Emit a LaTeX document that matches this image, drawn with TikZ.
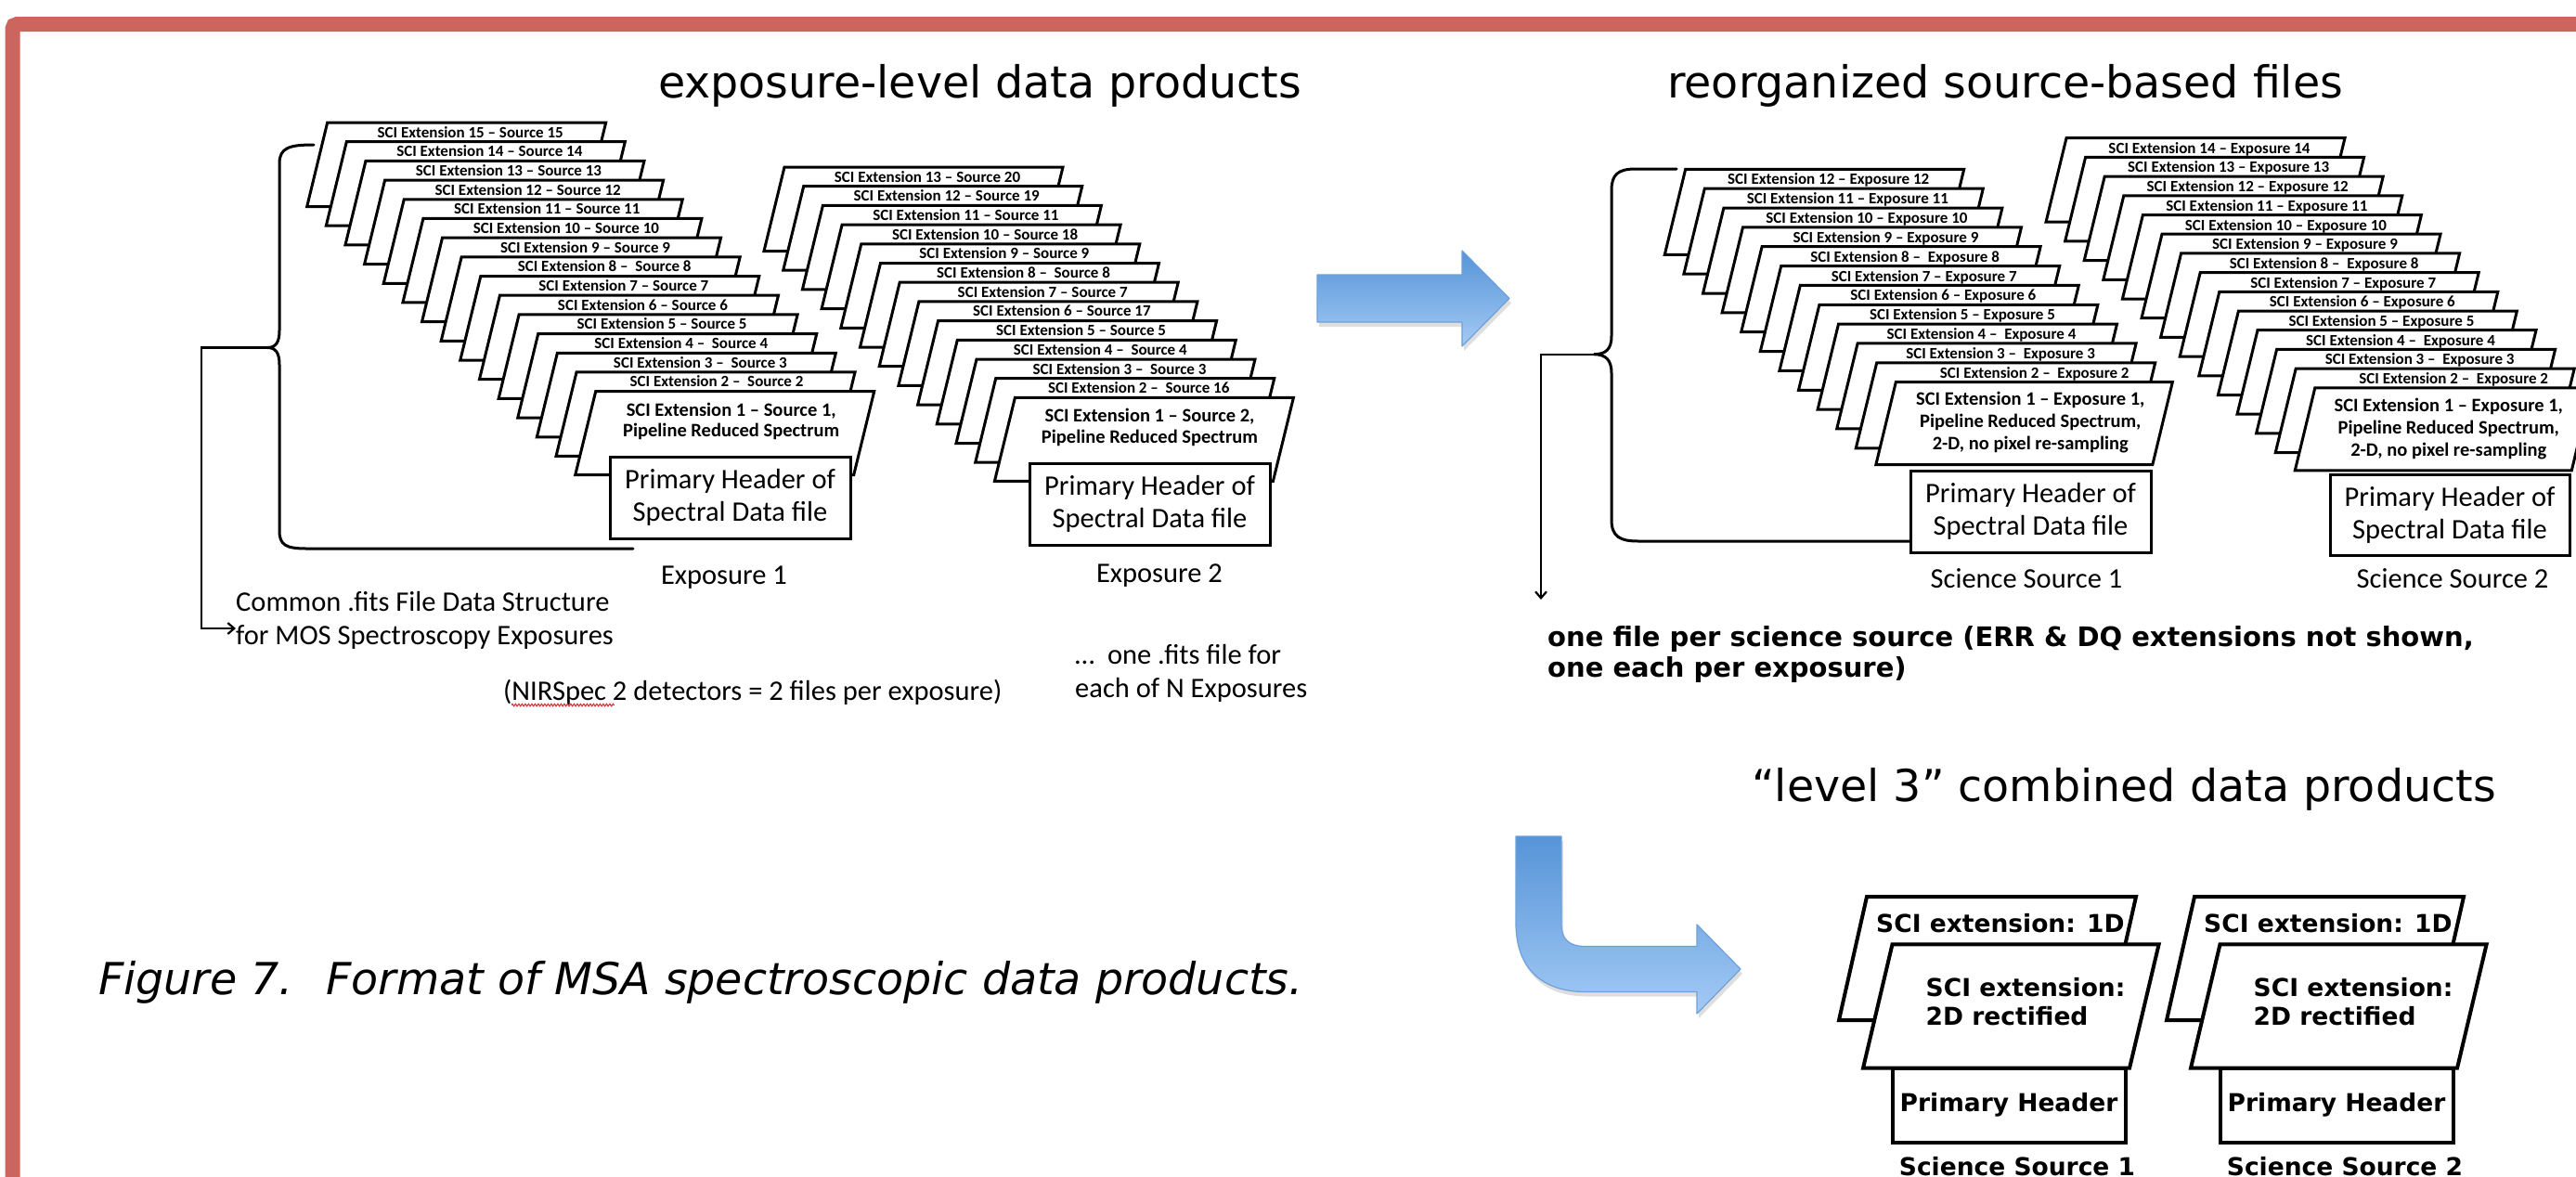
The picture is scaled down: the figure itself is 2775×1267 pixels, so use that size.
\documentclass[tikz,border=0pt]{standalone}
\usepackage{fontspec}
\setmainfont{Carlito}
\newfontfamily\dvsans{DejaVu Sans}
\usetikzlibrary{arrows.meta,decorations.pathmorphing}
\definecolor{framered}{RGB}{205,101,95}
\definecolor{arrtop}{RGB}{86,148,216}
\definecolor{arrbot}{RGB}{163,202,245}
\definecolor{arredge}{RGB}{110,160,218}
\definecolor{squig}{RGB}{220,40,40}
\tikzset{
  sheet/.style={draw=black, fill=white, line width=3pt, line join=miter},
  lsheet/.style={draw=black, fill=white, line width=4pt, line join=miter},
  lbl/.style={font=\bfseries\fontsize{17}{20}\selectfont, anchor=base, inner sep=0pt},
  bigl/.style={font=\bfseries\fontsize{20.5}{24}\selectfont, anchor=base, inner sep=0pt},
  hdr/.style={draw=black, fill=white, line width=3pt, minimum width=259pt, minimum height=88pt, inner sep=0pt, align=center, font=\fontsize{30.5}{35}\selectfont},
  lhdr/.style={draw=black, fill=white, line width=4pt, minimum width=251pt, minimum height=80pt, inner sep=0pt, font=\dvsans\bfseries\fontsize{26.5}{31}\selectfont},
  captxt/.style={font=\fontsize{30.5}{36.5}\selectfont, inner sep=0pt},
  ttl/.style={font=\dvsans\fontsize{47.5}{57}\selectfont, anchor=base west, inner sep=0pt},
  boldv/.style={font=\dvsans\bfseries\fontsize{29}{33}\selectfont, anchor=base west, inner sep=0pt},
  lthree/.style={font=\dvsans\bfseries\fontsize{26.5}{31}\selectfont, inner sep=0pt},
  brace/.style={draw=black, line width=3pt, line cap=round},
  conn/.style={draw=black, line width=2.2pt},
  bluearrow/.style={top color=arrtop, bottom color=arrbot, draw=arredge, line width=1.2pt, line join=round},
  arrshadow/.style={fill=black, opacity=0.13}
}
\begin{document}
\begin{tikzpicture}[x=1pt,y=-1pt]
\useasboundingbox (0,0) rectangle (2775,1267);
\clip (0,0) rectangle (2775,1267);
\fill[white] (0,0) rectangle (2775,1267);

% frame
\draw[framered, line width=16pt, rounded corners=5pt] (13.5,1300) -- (13.5,26) -- (2820,26);

% titles
\node[ttl] (t1) at (709,105) {exposure-level data products};
\node[ttl] (t2) at (1796,105) {reorganized source-based files};
\node[ttl] (t3) at (1887,863) {“level 3” combined data products};
\node[font=\dvsans\itshape\fontsize{47.5}{56}\selectfont, anchor=base west, inner sep=0pt] (fig) at (106,1071) {Figure 7. ~Format of MSA spectroscopic data products.};

% ---------- stack 1 : exposure 1
\foreach \lab/\off [count=\i from 0] in {{SCI Extension 15 – Source 15}/0,{SCI Extension 14 – Source 14}/0,{SCI Extension 13 – Source 13}/0,{SCI Extension 12 – Source 12}/0,{SCI Extension 11 – Source 11}/0,{SCI Extension 10 – Source 10}/0,{SCI Extension 9 – Source 9}/0,{SCI Extension 8 – ~Source 8}/0,{SCI Extension 7 – Source 7}/0,{SCI Extension 6 – Source 6}/0,{SCI Extension 5 – Source 5}/0,{SCI Extension 4 – ~Source 4}/0,{SCI Extension 3 – ~Source 3}/0,{SCI Extension 2 – ~Source 2}/-3}{
  \pgfmathsetmacro\tx{352.7+20.64*\i}
  \pgfmathsetmacro\ty{132+20.69*\i}
  \path[sheet] (\tx,\ty) -- ++(300,0) -- ++(-22,90.5) -- ++(-300,0) -- cycle;
  \node[lbl] (ea\i) at (\tx+154+\off,\ty+16) {\lab};
}
\path[sheet] (641.7,421.7) -- ++(300,0) -- ++(-22,90) -- ++(-300,0) -- cycle;
\node[bigl] (ea1a) at (787.7,448.7) {SCI Extension 1 – Source 1,};
\node[bigl] (ea1b) at (787.7,470.2) {Pipeline Reduced Spectrum};
\node[hdr] (ha) at (786.5,536) {Primary Header of\\Spectral Data file};
\node[captxt, anchor=base] (xa) at (780,629.7) {Exposure 1};

% ---------- stack 2 : exposure 2
\foreach \lab/\off [count=\i from 0] in {{SCI Extension 13 – Source 20}/0,{SCI Extension 12 – Source 19}/0,{SCI Extension 11 – Source 11}/0,{SCI Extension 10 – Source 18}/0,{SCI Extension 9 – Source 9}/0,{SCI Extension 8 – ~Source 8}/0,{SCI Extension 7 – Source 7}/0,{SCI Extension 6 – Source 17}/0,{SCI Extension 5 – Source 5}/0,{SCI Extension 4 – ~Source 4}/0,{SCI Extension 3 – ~Source 3}/0,{SCI Extension 2 – ~Source 16}/0}{
  \pgfmathsetmacro\tx{845+20.7*\i}
  \pgfmathsetmacro\ty{180+20.7*\i}
  \path[sheet] (\tx,\ty) -- ++(300,0) -- ++(-22,90.5) -- ++(-300,0) -- cycle;
  \node[lbl] (eb\i) at (\tx+154+\off,\ty+16) {\lab};
}
\path[sheet] (1093.4,428.4) -- ++(300,0) -- ++(-22,90) -- ++(-300,0) -- cycle;
\node[bigl] (eb1a) at (1238.5,454.8) {SCI Extension 1 – Source 2,};
\node[bigl] (eb1b) at (1238.5,477.3) {Pipeline Reduced Spectrum};
\node[hdr] (hb) at (1238.5,543) {Primary Header of\\Spectral Data file};
\node[captxt, anchor=base] (xb) at (1249,627.7) {Exposure 2};

% ---------- stack 3 : science source 1
\foreach \lab/\off [count=\i from 0] in {{SCI Extension 12 – Exposure 12}/0,{SCI Extension 11 – Exposure 11}/0,{SCI Extension 10 – Exposure 10}/0,{SCI Extension 9 – Exposure 9}/0,{SCI Extension 8 – ~Exposure 8}/0,{SCI Extension 7 – Exposure 7}/0,{SCI Extension 6 – Exposure 6}/0,{SCI Extension 5 – Exposure 5}/0,{SCI Extension 4 – ~Exposure 4}/0,{SCI Extension 3 – ~Exposure 3}/0,{SCI Extension 2 – ~Exposure 2}/16}{
  \pgfmathsetmacro\tx{1815.7+20.6*\i}
  \pgfmathsetmacro\ty{182.3+20.85*\i}
  \path[sheet] (\tx,\ty) -- ++(300,0) -- ++(-22.4,92) -- ++(-300,0) -- cycle;
  \node[lbl] (ec\i) at (\tx+154+\off,\ty+16.5) {\lab};
}
\path[sheet] (2042.3,411.7) -- ++(298,0) -- ++(-21.5,89) -- ++(-298,0) -- cycle;
\node[bigl] (ec1a) at (2187.3,436.5) {SCI Extension 1 – Exposure 1,};
\node[bigl] (ec1b) at (2187.3,460.7) {Pipeline Reduced Spectrum,};
\node[bigl] (ec1c) at (2187.3,484.9) {2-D, no pixel re-sampling};
\node[hdr] (hc) at (2187.5,551) {Primary Header of\\Spectral Data file};
\node[captxt, anchor=base] (xc) at (2183,633.4) {Science Source 1};

% ---------- stack 4 : science source 2
\foreach \lab/\off [count=\i from 0] in {{SCI Extension 14 – Exposure 14}/0,{SCI Extension 13 – Exposure 13}/0,{SCI Extension 12 – Exposure 12}/0,{SCI Extension 11 – Exposure 11}/0,{SCI Extension 10 – Exposure 10}/0,{SCI Extension 9 – Exposure 9}/0,{SCI Extension 8 – ~Exposure 8}/0,{SCI Extension 7 – Exposure 7}/0,{SCI Extension 6 – Exposure 6}/0,{SCI Extension 5 – Exposure 5}/0,{SCI Extension 4 – ~Exposure 4}/0,{SCI Extension 3 – ~Exposure 3}/0,{SCI Extension 2 – ~Exposure 2}/16}{
  \pgfmathsetmacro\tx{2226+20.6*\i}
  \pgfmathsetmacro\ty{148.7+20.7*\i}
  \path[sheet] (\tx,\ty) -- ++(300,0) -- ++(-22,90.5) -- ++(-300,0) -- cycle;
  \node[lbl] (ed\i) at (\tx+154+\off,\ty+16.5) {\lab};
}
\path[sheet] (2493.8,417.8) -- ++(298,0) -- ++(-21.5,89) -- ++(-298,0) -- cycle;
\node[bigl] (ed1a) at (2637.8,443) {SCI Extension 1 – Exposure 1,};
\node[bigl] (ed1b) at (2637.8,467.2) {Pipeline Reduced Spectrum,};
\node[bigl] (ed1c) at (2637.8,491.4) {2-D, no pixel re-sampling};
\node[hdr, minimum width=258pt, minimum height=87pt] (hd) at (2639,554.5) {Primary Header of\\Spectral Data file};
\node[captxt, anchor=base] (xd) at (2642,633.4) {Science Source 2};

% ---------- braces and their arrows
\coordinate (b1cusp) at (288,374.5);
\coordinate (b1bend) at (217,374.5);
\coordinate (b1low) at (217,677);
\path[brace] (338,156) .. controls (312,156) and (301,159) .. (301,176) -- (301,356)
  .. controls (301,369) and (297,374.5) .. (b1cusp)
  .. controls (297,374.5) and (301,380) .. (301,393) -- (301,572)
  .. controls (301,587) and (308,591) .. (330,591) -- (682,591);
\node[captxt, anchor=base west] (ca) at (254,658.3) {Common .fits File Data Structure};
\node[captxt, anchor=base west] (cb) at (254,694.8) {for MOS Spectroscopy Exposures};
\draw[conn, -{Straight Barb[length=7pt,width=12pt]}] (b1cusp) -- (b1bend) -- (b1low) -- (cb.west |- b1low);

\coordinate (b3cusp) at (1717,381.7);
\coordinate (b3bend) at (1660,381.7);
\coordinate (b3low) at (1660,646);
\path[brace] (1806,182) -- (1762,182) .. controls (1743,182) and (1736,188) .. (1736,205) -- (1736,362)
  .. controls (1736,376) and (1730,381.7) .. (b3cusp)
  .. controls (1730,381.7) and (1736,388) .. (1736,402) -- (1736,560)
  .. controls (1736,578) and (1745,583) .. (1765,583) -- (2058,583);
\draw[conn, -{Straight Barb[length=7pt,width=12pt]}] (b3cusp) -- (b3bend) -- (b3low);

% ---------- notes
\node[captxt, anchor=base west] (nir) at (542,754.8) {(NIRSpec 2 detectors = 2 files per exposure)};
\draw[squig, line width=1pt, decorate, decoration={zigzag, amplitude=1.3pt, segment length=3.5pt}] (551,759.5) -- (662,759.5);
\node[captxt, anchor=base west] (na) at (1158,715.8) {… ~one .fits file for};
\node[captxt, anchor=base west] (nb) at (1158,751.5) {each of N Exposures};
\node[boldv] (oa) at (1667,696.4) {one file per science source (ERR \& DQ extensions not shown,};
\node[boldv] (ob) at (1667,729.4) {one each per exposure)};

% ---------- blue arrows
\begin{scope}[shift={(2,5)}]
\path[arrshadow] (1419,296) -- (1575,296) -- (1575,270) -- (1626,321.5) -- (1575,373) -- (1575,347) -- (1419,347) -- cycle;
\end{scope}
\path[bluearrow] (1419,296) -- (1575,296) -- (1575,270) -- (1626,321.5) -- (1575,373) -- (1575,347) -- (1419,347) -- cycle;

\begin{scope}[shift={(2,5)}]
\path[arrshadow] (1633,901) -- (1682,901) -- (1682,995) .. controls (1682,1012) and (1690,1019.5) .. (1708,1019.5) -- (1828,1019.5) -- (1828,996) -- (1875,1044) -- (1828,1092) -- (1828,1068.5) -- (1708,1068.5) .. controls (1660,1068.5) and (1633,1042) .. (1633,995) -- cycle;
\end{scope}
\path[bluearrow] (1633,901) -- (1682,901) -- (1682,995) .. controls (1682,1012) and (1690,1019.5) .. (1708,1019.5) -- (1828,1019.5) -- (1828,996) -- (1875,1044) -- (1828,1092) -- (1828,1068.5) -- (1708,1068.5) .. controls (1660,1068.5) and (1633,1042) .. (1633,995) -- cycle;

% ---------- level 3 products
\foreach \sx/\k in {0/1,353/2}{
  \begin{scope}[shift={(\sx,0)}]
    \path[lsheet] (2011,966) -- (2301,966) -- (2271,1099) -- (1981,1099) -- cycle;
    \node[lthree, anchor=west] (la\k) at (2021,995) {SCI extension: 1D};
    \path[lsheet] (2038.5,1017.3) -- (2325.6,1017.3) -- (2294,1150.7) -- (2007,1150.7) -- cycle;
    \node[lthree, anchor=base west] (lb\k) at (2074.5,1073.5) {SCI extension:};
    \node[lthree, anchor=base west] (lc\k) at (2074.5,1104.5) {2D rectified};
    \node[lhdr] (lp\k) at (2164,1190.7) {Primary Header};
    \node[lthree, anchor=base] (ls\k) at (2173,1266) {Science Source \k};
  \end{scope}
}
\end{tikzpicture}
\end{document}
